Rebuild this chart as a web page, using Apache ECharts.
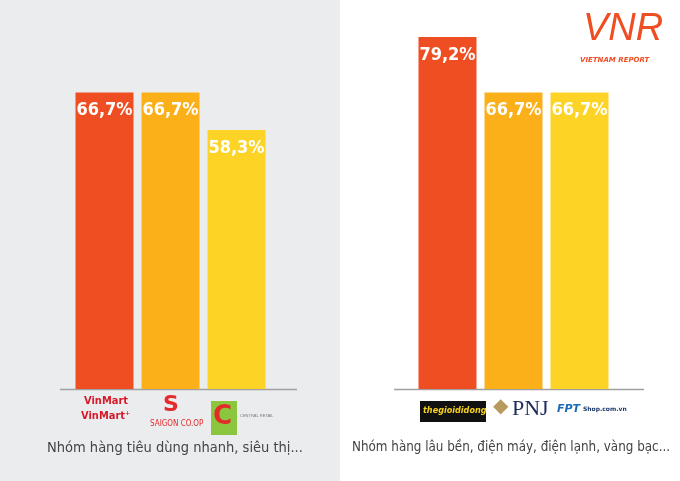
<!DOCTYPE html><html><head><meta charset="utf-8">
<script src="https://cdn.jsdelivr.net/npm/echarts@6/dist/echarts.min.js"></script>
<style>html,body{margin:0;padding:0}#c{width:680px;height:481px}</style></head><body><div id="c"></div>
<script>
const groups = ['Nhóm hàng tiêu dùng nhanh, siêu thị...', 'Nhóm hàng lâu bền, điện máy, điện lạnh, vàng bạc...'];
const leftBrands = ['VinMart', 'Saigon Co.op', 'Big C'];
const leftValues = [66.7, 66.7, 58.3];
const rightBrands = ['Thế Giới Di Động', 'PNJ', 'FPT Shop'];
const rightValues = [79.2, 66.7, 66.7];
const colors = ['#ef4e23', '#fbaf19', '#fdd326'];
const CF = '"DejaVu Sans Condensed","Liberation Sans",sans-serif';

const chart = echarts.init(document.getElementById('c'));
const lbl = {show:true, position:'insideTop', distance:9, color:'#fff', fontSize:18, fontWeight:'bold', fontFamily:CF, formatter:p=>p.value.toFixed(1).replace('.',',')+'%'};
function mk(vals, names, xi){
  return vals.map((v,i)=>({type:'bar', name:names[i], xAxisIndex:xi, yAxisIndex:xi, data:[v], barWidth:58, barGap:'13.8%', itemStyle:{color:colors[i]}, label:lbl}));
}
chart.setOption({
  animation:false,
  graphic:[
    {type:'rect', shape:{x:0,y:0,width:340,height:481}, style:{fill:'#ebecee'}, z:-10},
    {type:'line', shape:{x1:60,y1:389.5,x2:297,y2:389.5}, style:{stroke:'#a0a0a0', lineWidth:1.5}},
    {type:'line', shape:{x1:394,y1:389.5,x2:644,y2:389.5}, style:{stroke:'#a0a0a0', lineWidth:1.5}},
    {type:'text', left:84, top:396, style:{text:'VinMart', fill:'#d7192a', font:'bold 11px '+CF}},
    {type:'text', left:81, top:411, style:{text:'VinMart⁺', fill:'#d7192a', font:'bold 11px '+CF}},
    {type:'text', left:163, top:394, style:{text:'S', fill:'#e32b2b', font:'bold 22px "DejaVu Sans"'}},
    {type:'text', left:150, top:420, style:{text:'SAIGON CO.OP', fill:'#e32b2b', font:'8px '+CF}},
    {type:'rect', shape:{x:211,y:401,width:26,height:34}, style:{fill:'#8cc63f'}},
    {type:'text', left:213, top:404, style:{text:'C', fill:'#e32b2b', font:'bold 26px "DejaVu Sans"'}},
    {type:'text', left:240, top:414, style:{text:'CENTRAL RETAIL', fill:'#777', font:'4px sans-serif'}},
    {type:'rect', shape:{x:420,y:401,width:66,height:21}, style:{fill:'#111'}},
    {type:'text', left:423, top:406, style:{text:'thegioididong', fill:'#f6d21c', font:'italic bold 9px '+CF}},
    {type:'text', left:493, top:397, style:{text:'◆', fill:'#b99a5e', font:'20px "DejaVu Sans"'}},
    {type:'text', left:512, top:398, style:{text:'PNJ', fill:'#1d2a5c', font:'22px "Liberation Serif"'}},
    {type:'text', left:557, top:404, style:{text:'FPT', fill:'#1b6bb8', font:'italic bold 11px "DejaVu Sans"'}},
    {type:'text', left:583, top:406, style:{text:'Shop.com.vn', fill:'#1b3a6b', font:'bold 6px "DejaVu Sans"'}},
    {type:'text', left:583, top:10, style:{text:'VNR', fill:'#ef4e23', font:'italic 38px "Liberation Sans"'}},
    {type:'text', left:580, top:57, style:{text:'VIETNAM REPORT', fill:'#ef4e23', font:'italic bold 7px "DejaVu Sans"'}},
    {type:'text', left:47, top:441, style:{text:groups[0], fill:'#444', font:'14.5px '+CF}},
    {type:'text', left:352, top:441, style:{text:groups[1], fill:'#444', font:'13.3px '+CF}}
  ],
  grid:[{left:52,width:237,top:33.5,height:355.5},{left:395,width:237,top:33.5,height:355.5}],
  xAxis:[0,1].map(i=>({type:'category', gridIndex:i, data:[groups[i]], show:false})),
  yAxis:[0,1].map(i=>({type:'value', gridIndex:i, min:0, max:80, show:false})),
  series:[...mk(leftValues,leftBrands,0), ...mk(rightValues,rightBrands,1)]
});
</script></body></html>
